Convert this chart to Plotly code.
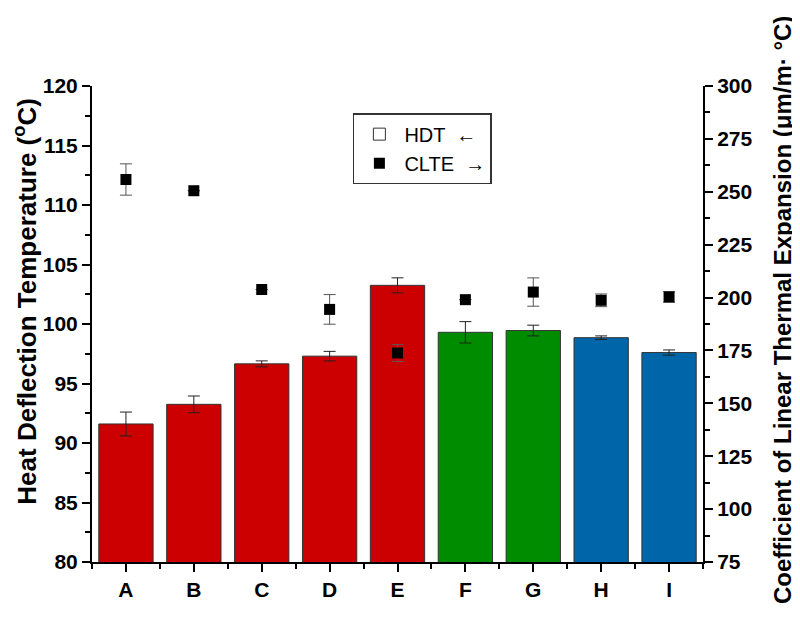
import plotly.graph_objects as go

# samples and measured values
samples = ["A", "B", "C", "D", "E", "F", "G", "H", "I"]
hdt = [91.6, 93.25, 96.65, 97.3, 103.25, 99.3, 99.45, 98.85, 97.6]
hdt_err = [1.0, 0.7, 0.25, 0.4, 0.63, 0.9, 0.45, 0.15, 0.22]
clte = [255.8, 250.5, 203.8, 194.4, 173.8, 199.0, 202.6, 198.7, 200.3]
clte_err = [7.4, 0.0, 0.0, 7.0, 4.0, 0.0, 6.7, 3.0, 2.5]
bar_colors = ["#CC0000"] * 5 + ["#008C00"] * 2 + ["#0066AA"] * 2

xpos = list(range(len(samples)))
FONT = "Liberation Sans, Arial"
tick_font = dict(family=FONT, size=21, color="black", weight="bold")

fig = go.Figure()

fig.add_trace(go.Bar(
    x=xpos, y=hdt,
    marker=dict(color=bar_colors, line=dict(color="#333333", width=1)),
    error_y=dict(type="data", array=hdt_err, color="#222222", thickness=1, width=6),
    width=0.8, showlegend=False, yaxis="y",
))
# legend entry for the bars (empty box)
fig.add_trace(go.Bar(
    x=[None], y=[None], name="HDT  ←",
    marker=dict(color="white", line=dict(color="#333333", width=1)),
    yaxis="y",
))
fig.add_trace(go.Scatter(
    x=xpos, y=clte, mode="markers", name="CLTE  →",
    marker=dict(symbol="square", size=11, color="black"),
    error_y=dict(type="data", array=clte_err, color="#555555", thickness=1, width=6),
    yaxis="y2",
))

axis_common = dict(
    showgrid=False, zeroline=False, automargin=False,
    showline=True, linecolor="black", linewidth=2,
    ticks="outside", ticklen=8, tickwidth=2, tickcolor="black",
    tickfont=tick_font,
)

fig.update_layout(
    width=792, height=611,
    plot_bgcolor="white", paper_bgcolor="white",
    margin=dict(l=84, r=97, t=78, b=57),
    bargap=0.2,
    xaxis=dict(
        range=[-0.5, len(samples) - 0.5],
        tickmode="array", tickvals=xpos, ticktext=samples,
        minor=dict(ticks="outside", ticklen=5, tickwidth=2, tickcolor="black",
                   tick0=0.5, dtick=1, showgrid=False),
        **axis_common,
    ),
    yaxis=dict(
        range=[80, 120], dtick=5,
        minor=dict(ticks="outside", ticklen=5, tickwidth=2, tickcolor="black",
                   dtick=2.5, showgrid=False),
        **axis_common,
    ),
    yaxis2=dict(
        range=[75, 300], dtick=25, overlaying="y", side="right",
        minor=dict(ticks="outside", ticklen=5, tickwidth=2, tickcolor="black",
                   dtick=12.5, showgrid=False),
        **axis_common,
    ),
    legend=dict(
        x=0.427, y=0.943, xanchor="left", yanchor="top",
        bordercolor="#333333", borderwidth=1.5, bgcolor="white",
        font=dict(family=FONT, size=20, color="black"),
        itemwidth=40,
    ),
)

# axis titles
fig.add_annotation(
    text="Heat Deflection Temperature (<sup>o</sup>C)",
    xref="paper", yref="paper", x=-0.1088, y=0.548,
    xanchor="center", yanchor="middle", textangle=-90, showarrow=False,
    font=dict(family=FONT, size=26, color="black", weight="bold"),
)
fig.add_annotation(
    text="Coefficient of Linear Thermal Expansion (μm/m· °C)",
    xref="paper", yref="paper", x=1.129, y=0.529,
    xanchor="center", yanchor="middle", textangle=-90, showarrow=False,
    font=dict(family=FONT, size=24, color="black", weight="bold"),
)

fig.write_html("out.html")
